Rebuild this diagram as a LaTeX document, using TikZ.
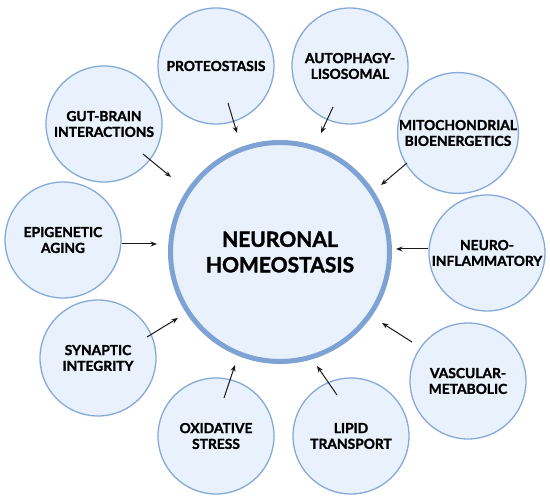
\documentclass[tikz,border=0pt]{standalone}
\usepackage{fontspec}
\setmainfont{Lato}[BoldFeatures={FakeBold=1.6}]
\usetikzlibrary{arrows.meta}
\definecolor{cfill}{HTML}{E9F2FC}
\definecolor{cedge}{HTML}{86A9DB}
\definecolor{cring}{HTML}{7FA2D4}
\tikzset{
  sat/.style={circle, draw=cedge, line width=1.3, fill=cfill, minimum size=116, inner sep=0pt, align=center,
    font=\fontsize{13.8}{15.8}\selectfont\bfseries},
  hub/.style={circle, draw=cring, line width=5, fill=cfill, minimum size=219, inner sep=0pt, align=center,
    font=\fontsize{21}{25.5}\selectfont\bfseries},
  arr/.style={-{Stealth[length=6.5,width=5]}, line width=1, black!90}
}
\begin{document}
\begin{tikzpicture}[x=1pt,y=-1pt]
\useasboundingbox (0,0) rectangle (550,502);
\node[hub] (main) at (280,252) {NEURONAL\\HOMEOSTASIS};
\node[sat] (pro) at (216,66) {PROTEOSTASIS};
\node[sat] (aut) at (350,66) {AUTOPHAGY-\\LISOSOMAL};
\node[sat] (gut) at (104,124) {GUT-BRAIN\\INTERACTIONS};
\node[sat] (epi) at (63,240) {EPIGENETIC\\AGING};
\node[sat] (mit) at (458,133) {MITOCHONDRIAL\\BIOENERGETICS};
\node[sat] (neu) at (487,253) {NEURO-\\INFLAMMATORY};
\node[sat] (syn) at (98,358) {SYNAPTIC\\INTEGRITY};
\node[sat] (oxi) at (216,436) {OXIDATIVE\\STRESS};
\node[sat] (lip) at (351,436) {LIPID\\TRANSPORT};
\node[sat] (vas) at (468,381) {VASCULAR-\\METABOLIC};
\coordinate (pro-s) at (228,103); \coordinate (pro-e) at (237,133);
\coordinate (aut-s) at (333,107); \coordinate (aut-e) at (321,133);
\coordinate (gut-s) at (143,154); \coordinate (gut-e) at (171,177);
\coordinate (epi-s) at (122,244); \coordinate (epi-e) at (157,244);
\coordinate (mit-s) at (407,163); \coordinate (mit-e) at (381,185);
\coordinate (neu-s) at (428,249); \coordinate (neu-e) at (396,249);
\coordinate (vas-s) at (412,342); \coordinate (vas-e) at (382,323);
\coordinate (lip-s) at (337,395); \coordinate (lip-e) at (317,366);
\coordinate (oxi-s) at (224,398); \coordinate (oxi-e) at (235,365);
\coordinate (syn-s) at (147,337); \coordinate (syn-e) at (178,318);
\foreach \n in {pro,aut,gut,epi,mit,neu,vas,lip,oxi,syn}
  \draw[arr] (\n-s) -- (\n-e);
\end{tikzpicture}
\end{document}
